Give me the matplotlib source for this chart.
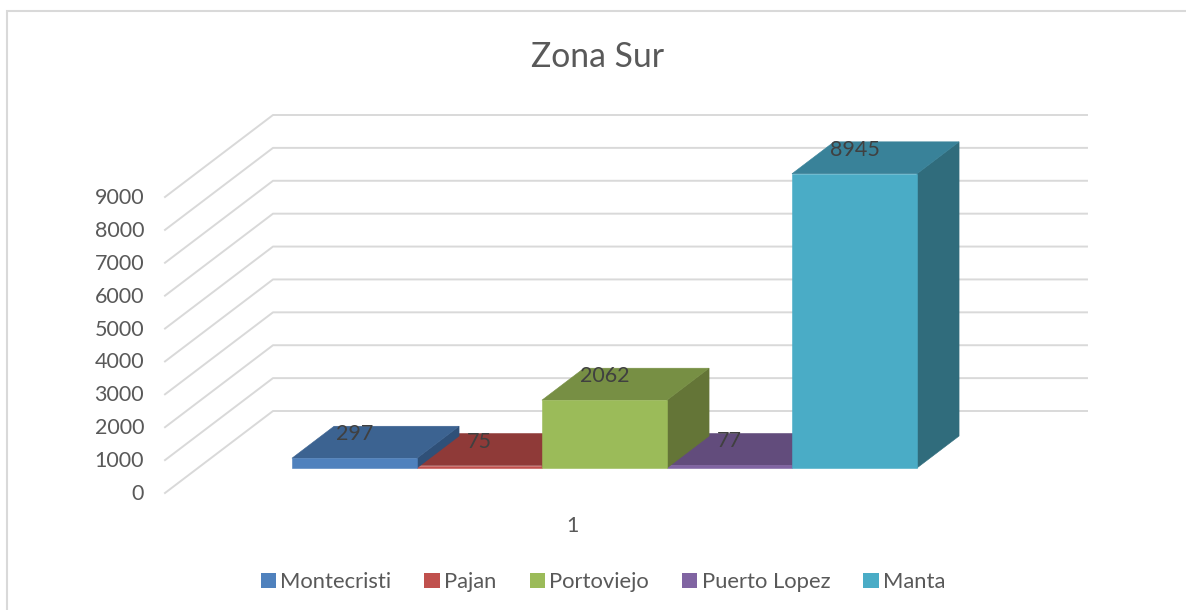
"""Zona Sur: Excel style 3D column chart drawn with an oblique projection."""

from matplotlib import pyplot as plt
from matplotlib.patches import Patch, Polygon, Rectangle

cities = ["Montecristi", "Pajan", "Portoviejo", "Puerto Lopez", "Manta"]
values = [297, 75, 2062, 77, 8945]
y_ticks = [0, 1000, 2000, 3000, 4000, 5000, 6000, 7000, 8000, 9000]
category_label = "1"

front_colors = ["#4F81BD", "#C0504D", "#9BBB59", "#8064A2", "#4AACC6"]
top_colors = ["#3C6391", "#8F3A38", "#778F44", "#624C7C", "#398299"]
side_colors = ["#2F5078", "#7A3230", "#647537", "#523F68", "#306C7C"]

WIDTH, HEIGHT = 1186, 610
FONT = "Lato"
GRID = "#D9D9D9"
TEXT = "#595959"

# projection, in pixels of the final image
X0, Y0 = 165, 493
DEPTH_X, DEPTH_Y = 108, 82
FLOOR_W = 814
PX_PER_UNIT = 296 / 9000
BAR_W = 125
BAR_GAP = 94
D_FRONT, D_BACK = 0.305, 0.695


def project(x, value, depth):
    return (
        X0 + x + DEPTH_X * depth,
        Y0 - DEPTH_Y * depth - value * PX_PER_UNIT,
    )


def draw_bar(ax, i):
    x0 = BAR_GAP + i * BAR_W
    x1 = x0 + BAR_W
    v = values[i]
    front = [project(x0, 0, D_FRONT), project(x1, 0, D_FRONT), project(x1, v, D_FRONT), project(x0, v, D_FRONT)]
    top = [project(x0, v, D_FRONT), project(x1, v, D_FRONT), project(x1, v, D_BACK), project(x0, v, D_BACK)]
    side = [project(x1, 0, D_FRONT), project(x1, 0, D_BACK), project(x1, v, D_BACK), project(x1, v, D_FRONT)]
    for pts, color in [(side, side_colors[i]), (top, top_colors[i]), (front, front_colors[i])]:
        ax.add_patch(Polygon(pts, closed=True, facecolor=color, edgecolor=color, linewidth=0.4, zorder=3))


def main():
    fig = plt.figure(figsize=(WIDTH / 100, HEIGHT / 100), dpi=100)
    ax = fig.add_axes([0, 0, 1, 1])
    ax.set_xlim(0, WIDTH)
    ax.set_ylim(HEIGHT, 0)
    ax.axis("off")

    # chart frame runs off the right and bottom of the image
    ax.add_patch(Rectangle((7, 11), WIDTH + 20, HEIGHT, facecolor="white", edgecolor=GRID, linewidth=1.5, zorder=0))

    for tick in y_ticks:
        pts = [project(0, tick, 0), project(0, tick, 1), project(FLOOR_W, tick, 1)]
        ax.plot([p[0] for p in pts], [p[1] for p in pts], color=GRID, linewidth=1.4, zorder=1)
        ax.text(144, project(0, tick, 0)[1] + 1, str(tick), ha="right", va="center",
                fontsize=15.5, color=TEXT, family=FONT)

    # low bars first so the taller neighbours cover them
    for i in sorted(range(len(values)), key=lambda k: values[k]):
        draw_bar(ax, i)

    for i, v in enumerate(values):
        x = BAR_GAP + (i + 0.5) * BAR_W
        px = project(x, v, D_FRONT)[0]
        py = project(x, v, D_BACK)[1] + 8
        ax.text(px, py, str(v), ha="center", va="center", fontsize=15.5, color="#404040", family=FONT, zorder=4)

    ax.text(598, 57, "Zona Sur", ha="center", va="center", fontsize=24.3, color=TEXT, family=FONT)
    ax.text(572, 526, category_label, ha="center", va="center", fontsize=15.5, color=TEXT, family=FONT)

    handles = [Patch(facecolor=c, edgecolor="none") for c in front_colors]
    ax.legend(
        handles,
        cities,
        ncol=5,
        loc="center",
        bbox_to_anchor=(603 / WIDTH, 1 - 582 / HEIGHT),
        frameon=False,
        handlelength=0.7,
        handleheight=0.7,
        handletextpad=0.2,
        columnspacing=1.5,
        labelcolor=TEXT,
        prop={"family": FONT, "size": 15.8},
    )

    fig.savefig("out.png", dpi=100)
    plt.close(fig)


if __name__ == "__main__":
    main()
